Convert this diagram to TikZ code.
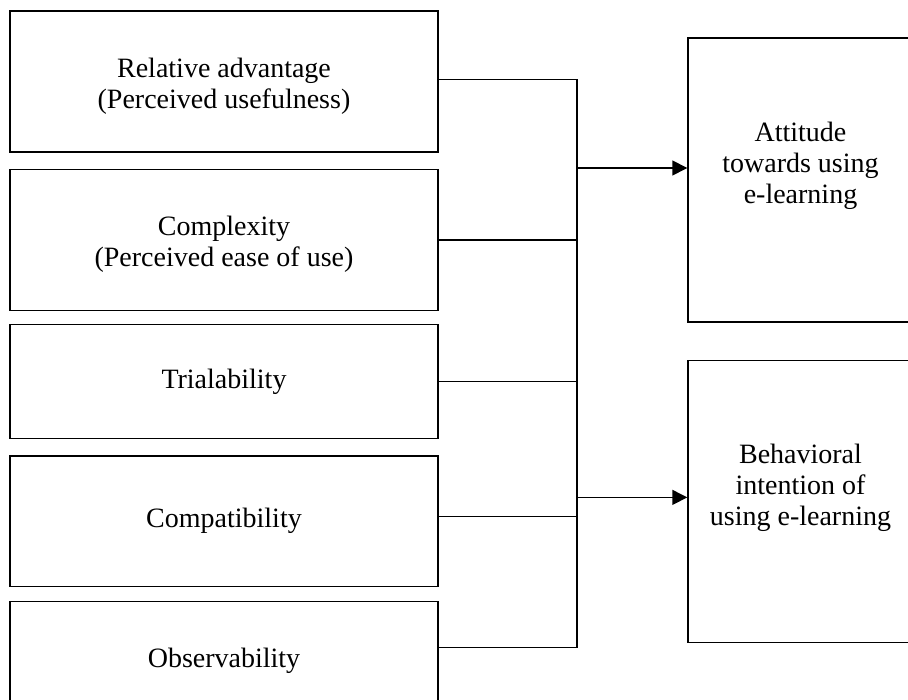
\documentclass[tikz,border=0pt]{standalone}
\usepackage{fontspec}
\setmainfont{Liberation Serif}
\usetikzlibrary{arrows.meta,positioning}

\begin{document}
\begin{tikzpicture}[x=1pt, y=1pt, line width=1.4pt,
	font=\fontsize{28}{31}\selectfont]
	\tikzstyle{lbox}=[draw, rectangle, minimum width=428pt, align=center, inner sep=0pt]
	\tikzstyle{rbox}=[draw, rectangle, minimum width=225pt]
	\tikzstyle{rtext}=[align=center, inner sep=0pt]
	\tikzstyle{arr}=[-{Triangle[length=15pt,width=15pt]}]

	\useasboundingbox (0,0) rectangle (908,-700);
	\clip (0,0) rectangle (908,-700);

	\node[lbox, minimum height=141pt, text height=60pt] (rel) at (224,-81.5) {Relative advantage\\(Perceived usefulness)};
	\node[lbox, minimum height=141pt, text height=60pt] (cplx) [below=16pt of rel] {Complexity\\(Perceived ease of use)};
	\node[lbox, minimum height=114pt] (tri) [below=13pt of cplx] {Trialability};
	\node[lbox, minimum height=130pt] (comp) [below=16pt of tri] {Compatibility};
	\node[lbox, minimum height=118pt] (obs) [below=14pt of comp] {Observability};

	\node[rbox, minimum height=284pt,
		label={[rtext, yshift=14pt]center:Attitude\\towards using\\e-learning}] (att) at (800.5,-180) {};
	\node[rbox, minimum height=282pt,
		label={[rtext, yshift=14pt]center:Behavioral\\intention of\\using e-learning}] (beh) [below=37pt of att] {};

	\coordinate (bus) at (577,0);
	\coordinate (c1) at ([yshift=2pt]rel.east);
	\coordinate (c4) at ([yshift=5pt]comp.east);
	\coordinate (c5) at ([yshift=13pt]obs.east);
	\coordinate (busend) at (c5 -| bus);

	\draw (c1) -| (busend);
	\draw (cplx.east) -- (cplx.east -| bus);
	\draw (tri.east) -- (tri.east -| bus);
	\draw (c4) -- (c4 -| bus);
	\draw (c5) -- (busend);

	\coordinate (a1) at ([yshift=12pt]att.west);
	\coordinate (a2) at ([yshift=4pt]beh.west);
	\draw[arr] (a1 -| bus) -- (a1);
	\draw[arr] (a2 -| bus) -- (a2);
\end{tikzpicture}
\end{document}
